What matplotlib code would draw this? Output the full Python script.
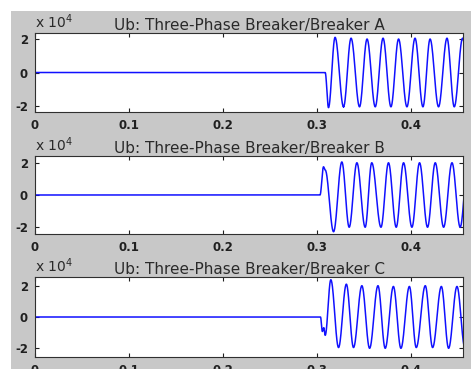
import numpy as np
import matplotlib
matplotlib.use("Agg")
import matplotlib.pyplot as plt
from matplotlib.patches import Rectangle

# --- DATA (time in s, voltage in units of 1e4 V) ---
titles = ["Ub: Three-Phase Breaker/Breaker A",
          "Ub: Three-Phase Breaker/Breaker B",
          "Ub: Three-Phase Breaker/Breaker C"]
x_ticks = [0, 0.1, 0.2, 0.3, 0.4]
x_labels = ["0", "0.1", "0.2", "0.3", "0.4"]
y_ticks = [-2, 0, 2]
y_labels = ["-2", "0", "2"]

# turning points of each trace (zero before the breaker closes)
a_t = [0, 0.3085, 0.312, 0.319, 0.328, 0.336, 0.345, 0.353, 0.3617, 0.370,
       0.3784, 0.3865, 0.3954, 0.404, 0.4124, 0.420, 0.429, 0.438, 0.4457,
       0.4546, 0.463]
a_v = [0, 0, -2.1, 2.1, -2.05, 2.05, -2.05, 2.0, -2.05, 2.05,
       -2.05, 2.0, -2.05, 2.05, -2.05, 2.0, -2.05, 2.05, -2.05,
       2.05, -2.0]

b_t = [0, 0.303, 0.3067, 0.3085, 0.3174, 0.3262, 0.334, 0.3422, 0.351, 0.358,
       0.3678, 0.3758, 0.384, 0.3918, 0.4007, 0.4088, 0.4173, 0.4255, 0.4344,
       0.4433, 0.452, 0.4603]
b_v = [0, 0, 1.75, 1.55, -2.28, 2.05, -2.0, 2.0, -2.0, 2.0,
       -2.0, 2.0, -2.0, 2.0, -2.0, 2.0, -2.0, 2.0, -2.0,
       2.0, -2.0, 2.0]

c_t = [0, 0.3035, 0.3055, 0.307, 0.3085, 0.3145, 0.3227, 0.331, 0.3386, 0.3475,
       0.3557, 0.3646, 0.3723, 0.381, 0.389, 0.398, 0.4053, 0.4149, 0.4227,
       0.432, 0.4397, 0.4486, 0.457]
c_v = [0, 0, -0.95, -0.7, -1.2, 2.44, -2.0, 2.15, -2.0, 2.05,
       -2.05, 2.05, -2.05, 2.0, -2.05, 2.0, -2.0, 2.05, -2.0,
       2.0, -2.05, 2.0, -2.0]

traces = [(a_t, a_v), (b_t, b_v), (c_t, c_v)]
y_lims = [(-2.36, 2.36), (-2.42, 2.42), (-2.62, 2.62)]


def smooth(tp, vp, n=30):
    # join turning points with half-cosine arcs so the waves look sinusoidal
    ts, vs = [], []
    for i in range(len(tp) - 1):
        s = np.linspace(0, 1, n)
        ts.append(tp[i] + (tp[i + 1] - tp[i]) * s)
        vs.append(vp[i] + (vp[i + 1] - vp[i]) * (1 - np.cos(np.pi * s)) / 2)
    return np.concatenate(ts), np.concatenate(vs)


plt.rcParams["font.family"] = ["DejaVu Sans"]

fig = plt.figure(figsize=(4.71, 3.69), dpi=100)
fig.patch.set_facecolor("white")
fig.patches.append(Rectangle((11 / 471, 0), 1 - 11 / 471, 1 - 11 / 369,
                             transform=fig.transFigure, facecolor="#c8c8c8",
                             edgecolor="none", zorder=-10))

# axes boxes in pixels: (top, bottom)
boxes = [(33, 112), (156, 234), (277, 357)]
left, right = 35, 463

for (top, bottom), (tp, vp), title, ylim in zip(boxes, traces, titles, y_lims):
    ax = fig.add_axes([left / 471, 1 - bottom / 369, (right - left) / 471,
                       (bottom - top) / 369])
    t, v = smooth(tp, vp)
    ax.plot(t, v, color="#1010ff", lw=1.1)
    ax.set_xlim(0, 0.455)
    ax.set_ylim(*ylim)
    ax.set_xticks(x_ticks)
    ax.set_xticklabels(x_labels)
    ax.set_yticks(y_ticks)
    ax.set_yticklabels(y_labels)
    ax.tick_params(direction="in", length=3, width=0.8, top=True, right=True,
                   labelsize=8.5, colors="#202020", pad=5)
    for lab in ax.get_xticklabels() + ax.get_yticklabels():
        lab.set_fontweight("bold")
    for sp in ax.spines.values():
        sp.set_color("#303030")
        sp.set_linewidth(0.8)
    ax.set_title(title, fontsize=11, color="#2a2a2a", pad=2.5)
    ax.text(0, 1.03, r"x 10$^{4}$", transform=ax.transAxes, fontsize=10,
            color="#2a2a2a", ha="left", va="bottom")

fig.savefig("out.png", dpi=100)
